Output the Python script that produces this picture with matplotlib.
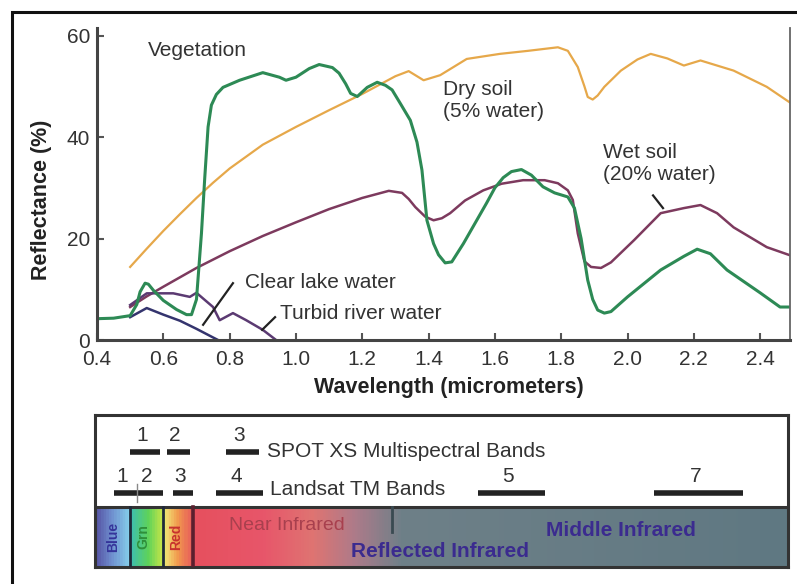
import numpy as np
import matplotlib
matplotlib.use("Agg")
import matplotlib.pyplot as plt
from matplotlib.patches import Rectangle
from matplotlib.colors import LinearSegmentedColormap

plt.rcParams['font.family'] = ['Liberation Sans', 'DejaVu Sans']

# Reflectance curves (wavelength in micrometers, reflectance in %)
veg_wl = [0.40, 0.45, 0.50, 0.52, 0.53, 0.545, 0.555, 0.57, 0.60, 0.64, 0.67, 0.685,
          0.70, 0.715, 0.725, 0.735, 0.745, 0.76, 0.78, 0.83, 0.90, 0.95, 0.97,
          1.00, 1.04, 1.07, 1.11, 1.13, 1.15, 1.165, 1.185, 1.215, 1.245, 1.27,
          1.29, 1.315, 1.345, 1.365, 1.38, 1.395, 1.415, 1.43, 1.45, 1.47, 1.505,
          1.54, 1.575, 1.60, 1.625, 1.65, 1.68, 1.71, 1.745, 1.78, 1.82, 1.84,
          1.86, 1.88, 1.895, 1.91, 1.93, 1.95, 2.0, 2.1, 2.17, 2.21, 2.25, 2.3,
          2.4, 2.46, 2.5]
veg_r = [4.2, 4.3, 4.8, 7.0, 9.5, 11.2, 11.0, 9.8, 7.8, 6.0, 5.0, 5.0,
         8.0, 21.0, 32.0, 42.0, 46.3, 48.4, 49.8, 51.2, 52.7, 51.8, 51.2,
         51.8, 53.5, 54.3, 53.7, 52.6, 50.5, 48.6, 48.0, 49.8, 50.8, 50.2,
         49.3, 46.6, 43.3, 39.0, 33.5, 23.6, 19.0, 16.8, 15.2, 15.4, 19.0,
         23.0, 27.0, 30.0, 32.0, 33.2, 33.6, 32.5, 30.2, 29.0, 28.2, 26.0,
         20.0, 11.8, 8.0, 5.9, 5.3, 5.6, 8.5, 13.8, 16.5, 17.9, 17.0, 13.8,
         9.3, 6.5, 6.5]

dry_wl = [0.50, 0.55, 0.60, 0.65, 0.70, 0.75, 0.80, 0.90, 1.00, 1.10, 1.20, 1.30,
          1.34, 1.385, 1.435, 1.515, 1.615, 1.70, 1.79, 1.82, 1.85, 1.87, 1.88,
          1.895, 1.91, 1.93, 1.98, 2.03, 2.07, 2.12, 2.17, 2.22, 2.32, 2.42, 2.49]
dry_r = [14.4, 18.0, 21.5, 24.8, 28.0, 31.0, 33.8, 38.5, 42.0, 45.3, 48.5, 52.0,
         53.0, 51.2, 52.2, 55.4, 56.4, 57.0, 57.7, 57.0, 53.8, 50.0, 47.9,
         47.4, 48.2, 49.9, 53.1, 55.3, 56.4, 55.5, 54.1, 55.1, 53.1, 49.9, 46.8]

wet_wl = [0.50, 0.55, 0.60, 0.70, 0.80, 0.90, 1.00, 1.10, 1.20, 1.28, 1.32, 1.34,
          1.36, 1.39, 1.415, 1.44, 1.465, 1.51, 1.565, 1.62, 1.685, 1.75, 1.79,
          1.82, 1.835, 1.85, 1.87, 1.89, 1.92, 1.95, 2.02, 2.10, 2.17, 2.22,
          2.27, 2.32, 2.42, 2.49]
wet_r = [6.5, 8.6, 10.5, 14.2, 17.5, 20.5, 23.2, 25.8, 28.0, 29.4, 29.0, 27.8,
         26.2, 24.3, 23.6, 24.0, 25.0, 27.5, 29.5, 30.8, 31.5, 31.5, 30.9,
         29.5, 27.6, 21.0, 15.5, 14.4, 14.2, 15.3, 19.7, 25.0, 26.0, 26.6,
         25.0, 22.2, 18.3, 16.7]

lake_wl = [0.50, 0.55, 0.60, 0.65, 0.70, 0.75, 0.765]
lake_r = [4.5, 6.3, 5.0, 3.8, 2.2, 0.5, 0.0]

turb_wl = [0.50, 0.55, 0.63, 0.68, 0.70, 0.75, 0.77, 0.81, 0.85, 0.90, 0.94]
turb_r = [6.9, 9.2, 9.2, 8.5, 9.3, 6.5, 3.9, 5.3, 3.9, 2.0, 0.0]

# Sensor bands (start, end) in micrometers
spot_bands = [(0.50, 0.59), (0.61, 0.68), (0.79, 0.89)]
spot_names = ['1', '2', '3']
tm_bands = [(0.45, 0.52), (0.52, 0.60), (0.63, 0.69), (0.76, 0.90), (1.55, 1.75), (2.08, 2.35)]
tm_names = ['1', '2', '3', '4', '5', '7']

# Spectrum regions: (name, centre, colour)
vis_regions = [('Blue', 0.448, '#35349a'), ('Grn', 0.54, '#2f8f3a'), ('Red', 0.64, '#c8322e')]
vis_edges = [0.50, 0.60]

W, H = 797, 584
fig = plt.figure(figsize=(W / 100, H / 100), dpi=100)
text_c = '#333333'

# outer frame
fig.patches.append(Rectangle((12 / W, -0.1), 1.2, 1 - 12 / H + 0.1, transform=fig.transFigure,
                             fill=False, ec='#111111', lw=2.2))

x0, x1 = 0.4, 2.49
ax = fig.add_axes([97 / W, 1 - 340 / H, 693 / W, 312 / H])
ax.plot(dry_wl, dry_r, color='#e6a84a', lw=1.6)
ax.plot(wet_wl, wet_r, color='#7d3a5e', lw=1.8)
ax.plot(lake_wl, lake_r, color='#34346e', lw=1.8)
ax.plot(turb_wl, turb_r, color='#5b3a72', lw=1.8)
ax.plot(veg_wl, veg_r, color='#2d8a55', lw=2.2)

ax.set_xlim(x0, x1)
ax.set_ylim(0, 61.5)
ax.set_xticks(np.arange(0.4, 2.41, 0.2))
ax.set_xticklabels(['%.1f' % v for v in np.arange(0.4, 2.41, 0.2)])
ax.set_yticks([0, 20, 40, 60])
ax.tick_params(direction='in', length=5, width=1.5, color='#555555', labelsize=15,
               labelcolor=text_c, pad=5)
ax.tick_params(axis='x', pad=7)
for s in ['left', 'bottom']:
    ax.spines[s].set_linewidth(2.2)
    ax.spines[s].set_color('#444444')
ax.spines['right'].set_linewidth(1.3)
ax.spines['right'].set_color('#666666')
ax.spines['top'].set_visible(False)
ax.set_ylabel('Reflectance (%)', fontsize=15.5, fontweight='bold', color='#222222')
ax.yaxis.set_label_coords(-0.065, 0.45)
ax.set_xlabel('Wavelength (micrometers)', fontsize=15.5, fontweight='bold', color='#222222')
ax.xaxis.set_label_coords(0.508, -0.12)

ax.text(0.554, 57.1, 'Vegetation', fontsize=15, color=text_c, va='center')
ax.text(1.444, 47.2, 'Dry soil\n(5% water)', fontsize=15, color=text_c, va='center')
ax.text(1.926, 34.7, 'Wet soil\n(20% water)', fontsize=15, color=text_c, va='center')
ax.text(0.846, 11.4, 'Clear lake water', fontsize=15, color=text_c, va='center')
ax.text(0.952, 5.3, 'Turbid river water', fontsize=15, color=text_c, va='center')
# leader lines
ax.plot([0.81, 0.72], [11.2, 3.0], color='#222222', lw=1.6)
ax.plot([0.937, 0.898], [4.5, 2.0], color='#222222', lw=1.6)
ax.plot([2.077, 2.107], [28.5, 26.0], color='#222222', lw=1.6)

# lower panel: bands and spectrum
bx0 = 0.4 + (95 - 97) / 331.5
bx1 = 0.4 + (788 - 97) / 331.5
bax = fig.add_axes([95 / W, 1 - 567 / H, 693 / W, 152 / H])
bax.set_xlim(bx0, bx1)
bax.set_ylim(0, 1)
bax.set_xticks([])
bax.set_yticks([])
for s in bax.spines.values():
    s.set_linewidth(2.2)
    s.set_color('#333333')

bar_top = 0.395
stops = [(bx0, '#5757a6'), (0.44, '#6f8fcf'), (0.495, '#86d2ec'),
         (0.50, '#3fbfae'), (0.55, '#5fd35a'), (0.595, '#c9e548'),
         (0.60, '#f2e678'), (0.64, '#f19a4e'), (0.69, '#e6505e'),
         (0.90, '#e8566a'), (1.05, '#df7472'), (1.18, '#ac7b8a'),
         (1.32, '#6e8088'), (bx1, '#5f7882')]
pos = [min(max((p - bx0) / (bx1 - bx0), 0.0), 1.0) for p, _ in stops]
pos[0], pos[-1] = 0.0, 1.0
cmap = LinearSegmentedColormap.from_list('spec', list(zip(pos, [c for _, c in stops])))
grad = np.linspace(0, 1, 800).reshape(1, -1)
bax.imshow(grad, aspect='auto', cmap=cmap, extent=[bx0, bx1, 0, bar_top], zorder=1)
bax.axhline(bar_top, color='#333333', lw=2.2, zorder=3)
for e in vis_edges:
    bax.plot([e, e], [0, bar_top], color='#1f2a3a', lw=2, zorder=3)
bax.plot([0.69, 0.69], [0, bar_top], color='#5a1f2e', lw=2.6, zorder=3)
bax.plot([1.29, 1.29], [bar_top, 0.23], color='#3a4a52', lw=2, zorder=3)

for name, xc, col in vis_regions:
    bax.text(xc, 0.2, name, rotation=90, ha='center', va='center', fontsize=10,
             fontweight='bold', color=col, zorder=4)
bax.text(0.973, 0.27, 'Near Infrared', ha='center', va='center', fontsize=14,
         color='#a8404e', zorder=4)
bax.text(1.435, 0.10, 'Reflected Infrared', ha='center', va='center', fontsize=15,
         fontweight='bold', color='#3b2b8f', zorder=4)
bax.text(1.98, 0.243, 'Middle Infrared', ha='center', va='center', fontsize=15,
         fontweight='bold', color='#3b2b8f', zorder=4)

spot_y, tm_y = 0.757, 0.487
for (a, b), n in zip(spot_bands, spot_names):
    bax.plot([a, b], [spot_y, spot_y], color='#222222', lw=4, solid_capstyle='butt')
    bax.text((a + b) / 2 - 0.01, spot_y + 0.11, n, ha='center', va='center', fontsize=15, color=text_c)
for (a, b), n in zip(tm_bands, tm_names):
    bax.plot([a, b], [tm_y, tm_y], color='#222222', lw=4, solid_capstyle='butt')
    bax.text((a + b) / 2 - 0.01, tm_y + 0.11, n, ha='center', va='center', fontsize=15, color=text_c)
bax.plot([0.52, 0.52], [tm_y - 0.06, tm_y + 0.06], color='#888888', lw=1)
bax.text(0.913, spot_y, 'SPOT XS Multispectral Bands', va='center', fontsize=15, color=text_c)
bax.text(0.922, tm_y + 0.02, 'Landsat TM Bands', va='center', fontsize=15, color=text_c)

fig.savefig('out.png', dpi=100)
